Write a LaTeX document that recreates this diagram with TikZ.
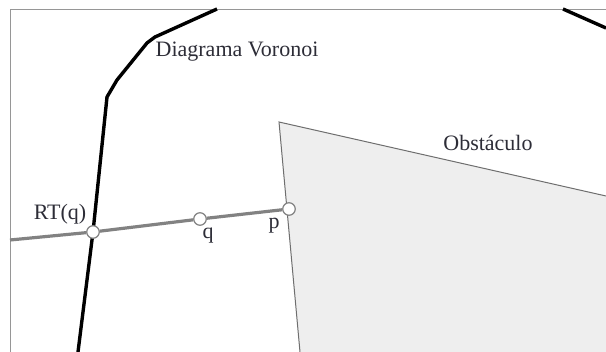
\documentclass[tikz,border=0pt]{standalone}
\usepackage{fontspec}
\setmainfont{Liberation Serif}
\usepackage{tikz}
\usetikzlibrary{positioning, calc}
\definecolor{framegray}{RGB}{150,150,150}
\definecolor{raygray}{RGB}{130,130,130}
\definecolor{obstfill}{RGB}{238,238,238}
\definecolor{obstedge}{RGB}{110,110,110}
\definecolor{labeltext}{RGB}{45,45,55}
\tikzset{
  framebox/.style={draw=framegray,line width=1pt},
  voronoi/.style={draw=black,line width=3.4pt,line join=round},
  obstacle/.style={fill=obstfill},
  obstline/.style={draw=obstedge,line width=1pt,line join=miter},
  ray/.style={draw=raygray,line width=3.2pt},
  pointnode/.style={circle,draw=raygray,fill=white,line width=1.2pt,inner sep=0pt,minimum size=12.5pt},
  lbl/.style={text=labeltext,font=\fontsize{22}{25}\selectfont,inner sep=1pt}
}

\begin{document}
\begin{tikzpicture}[x=1pt,y=-1pt]
  \useasboundingbox (0,0) rectangle (606,352);
  \clip (0,0) rectangle (606,352);

  % obstaculo
  \fill[obstacle] (279,122) -- (606,196) -- (606,352) -- (300,352) -- cycle;
  \draw[obstline] (606,196) -- (279,122) -- (300,352);

  % moldura
  \draw[framebox] (10,352) -- (10,9.5) -- (606,9.5);

  % diagrama de Voronoi
  \draw[voronoi] (78,352) -- (93,232) -- (107,97) -- (117,80) -- (147,43)
    -- (155,37) -- (217,9);
  \draw[voronoi] (563,9) -- (606,28);

  \coordinate (lft) at (10,240);
  \node[pointnode] (rt) at (93,232) {};
  \node[pointnode] (q) at (200,219) {};
  \node[pointnode] (p) at (289,209) {};

  \draw[ray] (lft) -- (rt) -- (q) -- (p);

  \node[lbl] (rtlbl) at (60,214) {RT(q)};
  \node[lbl] (qlbl) at (208,236) {q};
  \node[lbl] (plbl) at (274,226) {p};
  \node[lbl] (vorlbl) at (237,52) {Diagrama Voronoi};
  \node[lbl] (obslbl) at (488,143) {Obstáculo};
\end{tikzpicture}
\end{document}
